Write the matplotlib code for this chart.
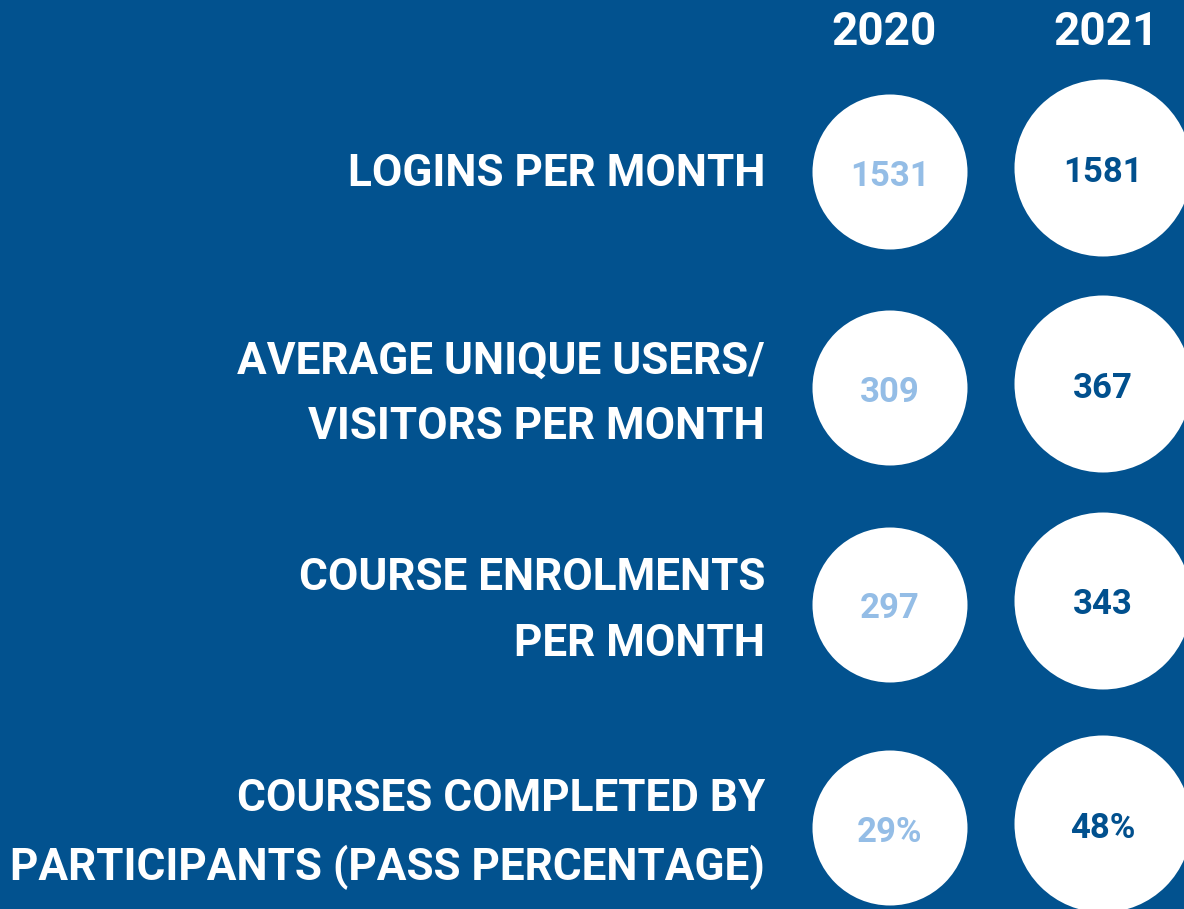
import matplotlib.pyplot as plt
from matplotlib.patches import Circle

years = ['2020', '2021']
labels = ['LOGINS PER MONTH',
          'AVERAGE UNIQUE USERS/\nVISITORS PER MONTH',
          'COURSE ENROLMENTS\nPER MONTH',
          'COURSES COMPLETED BY\nPARTICIPANTS (PASS PERCENTAGE)']
values_2020 = ['1531', '309', '297', '29%']
values_2021 = ['1581', '367', '343', '48%']

BG = '#02528f'
LIGHT = '#94bde6'
DARK = '#01508e'

W, H = 1184, 909
fig = plt.figure(figsize=(W / 100, H / 100), dpi=100, facecolor=BG)
ax = fig.add_axes([0, 0, 1, 1])
ax.set_xlim(0, W)
ax.set_ylim(H, 0)
ax.set_facecolor(BG)
ax.axis('off')

font = 'Roboto'
row_y = [171, 387, 604, 827]
col_x = [890, 1103]
radius = [77.5, 88.5]
offset = [1, -3]  # 2021 circles sit a bit higher
year_x = [884, 1106]

for j, yr in enumerate(years):
    ax.text(year_x[j], 32, yr, ha='center', va='center', color='white',
            fontsize=33, fontweight='bold', family=font)

for i, lab in enumerate(labels):
    y = row_y[i]
    dy = 7 if '\n' in lab else 3
    ax.text(765, y + dy, lab, ha='right', va='center', color='white',
            fontsize=31.8, fontweight='bold', family=font, linespacing=1.7)
    for j, vals in enumerate([values_2020, values_2021]):
        cy = y + offset[j]
        ax.add_patch(Circle((col_x[j], cy), radius[j], color='white', lw=0))
        ax.text(col_x[j], cy + 4, vals[i], ha='center', va='center',
                color=LIGHT if j == 0 else DARK,
                fontsize=25, fontweight='bold', family=font)

fig.savefig('out.png', dpi=100, facecolor=BG)
